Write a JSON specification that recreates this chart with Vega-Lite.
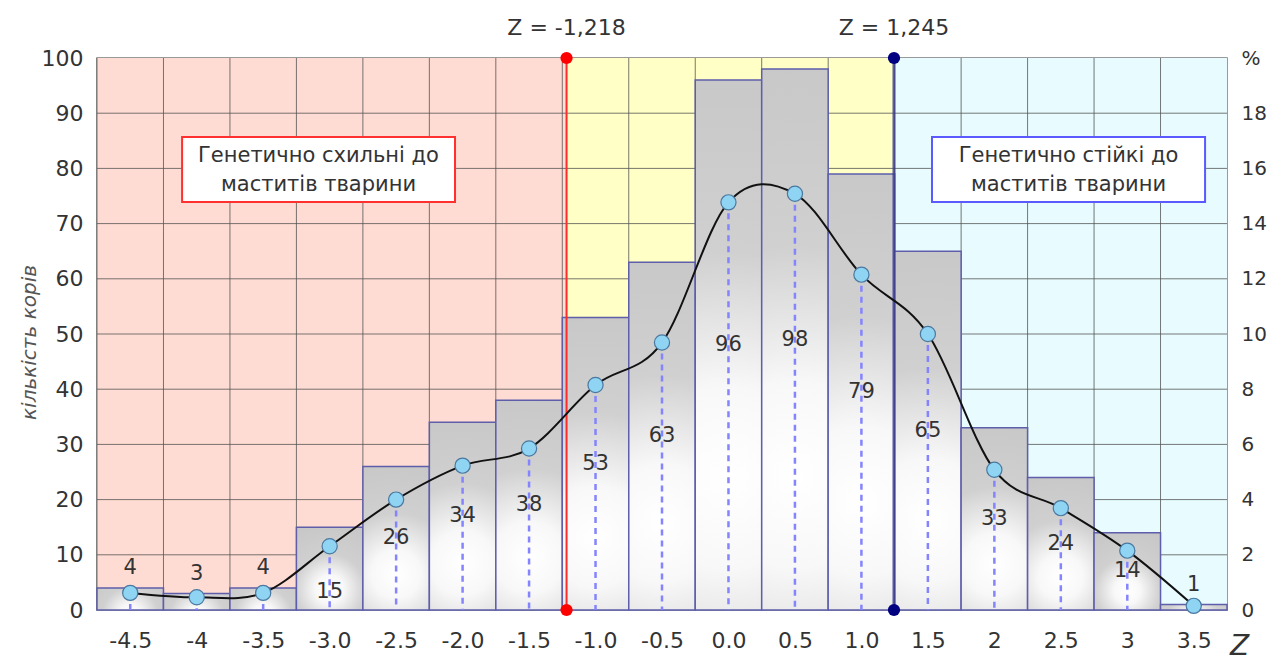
{
  "$schema": "https://vega.github.io/schema/vega-lite/v6.json",
  "width": 1130,
  "height": 552,
  "autosize": "none",
  "padding": {"left": 97, "top": 58, "right": 47, "bottom": 51},
  "background": "white",
  "config": {
    "font": "DejaVu Sans",
    "view": {"stroke": "#7a7a7a", "strokeWidth": 1.5},
    "axis": {"labelFont": "DejaVu Sans", "labelColor": "#333333", "ticks": false, "domain": false, "grid": false}
  },
  "datasets": {
    "bins": [
      {"z": -4.5, "count": 4, "pct": 0.62},
      {"z": -4.0, "count": 3, "pct": 0.46},
      {"z": -3.5, "count": 4, "pct": 0.62},
      {"z": -3.0, "count": 15, "pct": 2.31},
      {"z": -2.5, "count": 26, "pct": 4.0},
      {"z": -2.0, "count": 34, "pct": 5.23},
      {"z": -1.5, "count": 38, "pct": 5.85},
      {"z": -1.0, "count": 53, "pct": 8.15},
      {"z": -0.5, "count": 63, "pct": 9.69},
      {"z": 0.0, "count": 96, "pct": 14.77},
      {"z": 0.5, "count": 98, "pct": 15.08},
      {"z": 1.0, "count": 79, "pct": 12.15},
      {"z": 1.5, "count": 65, "pct": 10.0},
      {"z": 2.0, "count": 33, "pct": 5.08},
      {"z": 2.5, "count": 24, "pct": 3.69},
      {"z": 3.0, "count": 14, "pct": 2.15},
      {"z": 3.5, "count": 1, "pct": 0.15}
    ],
    "zones": [
      {"from": -4.75, "to": -1.218, "zone": "susceptible"},
      {"from": -1.218, "to": 1.245, "zone": "middle"},
      {"from": 1.245, "to": 3.75, "zone": "resistant"}
    ],
    "cuts": [
      {"zc": -1.218, "side": "low", "label": "Z = -1,218"},
      {"zc": 1.245, "side": "high", "label": "Z = 1,245"}
    ],
    "hgrid": [{"g": 10}, {"g": 20}, {"g": 30}, {"g": 40}, {"g": 50}, {"g": 60}, {"g": 70}, {"g": 80}, {"g": 90}]
  },
  "resolve": {"scale": {"y": "independent"}},
  "layer": [
    {
      "layer": [
        {
          "data": {"name": "zones"},
          "mark": {"type": "rect"},
          "encoding": {
            "x": {
              "field": "from", "type": "quantitative",
              "scale": {"domain": [-4.75, 3.75], "nice": false, "zero": false},
              "axis": {
                "values": [-4.5, -4, -3.5, -3, -2.5, -2, -1.5, -1, -0.5, 0, 0.5, 1, 1.5, 2, 2.5, 3, 3.5],
                "labelExpr": "(datum.value == -4 || datum.value == 2 || datum.value == 3) ? replace(format(datum.value, 'd'), '\u2212', '-') : replace(format(datum.value, '.1f'), '\u2212', '-')",
                "labelFontSize": 22,
                "labelPadding": 20,
                "title": "Z",
                "titleFont": "DejaVu Sans",
                "titleFontSize": 28,
                "titleFontStyle": "italic",
                "titleFontWeight": "normal",
                "titleColor": "#333333",
                "titleX": 1142,
                "titleY": 36,
                "titleAlign": "center",
                "titleBaseline": "middle",
                "titleAngle": 0
              }
            },
            "x2": {"field": "to"},
            "color": {
              "field": "zone", "type": "nominal",
              "scale": {"domain": ["susceptible", "middle", "resistant"], "range": ["#ffdcd3", "#ffffc6", "#e8fcff"]},
              "legend": null
            }
          }
        },
        {
          "data": {"name": "hgrid"},
          "mark": {"type": "rule", "color": "#555555", "strokeWidth": 1, "opacity": 0.8},
          "encoding": {
            "y": {"field": "g", "type": "quantitative", "scale": {"domain": [0, 100], "nice": false}}
          }
        },
        {
          "data": {"name": "bins"},
          "transform": [{"calculate": "datum.z - 0.25", "as": "edge"}],
          "mark": {"type": "rule", "color": "#555555", "strokeWidth": 1, "opacity": 0.8},
          "encoding": {
            "x": {"field": "edge", "type": "quantitative", "scale": {"domain": [-4.75, 3.75], "nice": false, "zero": false}}
          }
        },
        {
          "data": {"name": "bins"},
          "transform": [
            {"calculate": "datum.z - 0.25", "as": "lo"},
            {"calculate": "datum.z + 0.25", "as": "hi"}
          ],
          "mark": {
            "type": "rect",
            "stroke": "#5e5eaa",
            "strokeWidth": 1.5,
            "fill": {
              "gradient": "radial",
              "x1": 0.5, "y1": 0.75, "r1": 0,
              "x2": 0.5, "y2": 0.75, "r2": 0.85,
              "stops": [
                {"offset": 0, "color": "#ffffff"},
                {"offset": 0.2, "color": "#f8f8f8"},
                {"offset": 0.5, "color": "#d0d0d0"},
                {"offset": 1, "color": "#c6c6c6"}
              ]
            }
          },
          "encoding": {
            "x": {"field": "lo", "type": "quantitative", "scale": {"domain": [-4.75, 3.75], "nice": false, "zero": false}},
            "x2": {"field": "hi"},
            "y": {
              "field": "count", "type": "quantitative",
              "scale": {"domain": [0, 100], "nice": false},
              "axis": {
                "orient": "left",
                "values": [0, 10, 20, 30, 40, 50, 60, 70, 80, 90, 100],
                "labelFontSize": 22,
                "labelPadding": 14,
                "title": "кількість корів",
                "titleFont": "DejaVu Sans",
                "titleFontSize": 20,
                "titleFontStyle": "italic",
                "titleFontWeight": "normal",
                "titleColor": "#555555",
                "titleX": -68,
                "titleY": 284,
                "titleAngle": -90,
                "titleAlign": "center",
                "titleBaseline": "middle"
              }
            },
            "y2": {"datum": 0}
          }
        },
        {
          "data": {"name": "bins"},
          "transform": [
            {"calculate": "datum.count < 5 ? datum.count + 3.6 : (datum.count == 15 ? 3.3 : datum.count / 2)", "as": "ly"}
          ],
          "mark": {"type": "text", "fontSize": 21, "color": "#333333", "baseline": "middle", "align": "center"},
          "encoding": {
            "x": {"field": "z", "type": "quantitative", "scale": {"domain": [-4.75, 3.75], "nice": false, "zero": false}},
            "y": {"field": "ly", "type": "quantitative", "scale": {"domain": [0, 100], "nice": false}},
            "text": {"field": "count", "type": "quantitative"}
          }
        },
        {
          "data": {"name": "cuts"},
          "transform": [{"filter": "datum.side == 'low'"}],
          "layer": [
            {"mark": {"type": "rule", "strokeWidth": 2, "color": "#ff2a2a"}, "encoding": {}},
            {"mark": {"type": "circle", "size": 150, "color": "#ff0000", "opacity": 1}, "encoding": {"y": {"datum": 100, "type": "quantitative", "scale": {"domain": [0, 100], "nice": false}}}},
            {"mark": {"type": "circle", "size": 150, "color": "#ff0000", "opacity": 1}, "encoding": {"y": {"datum": 0, "type": "quantitative", "scale": {"domain": [0, 100], "nice": false}}}}
          ],
          "encoding": {
            "x": {"field": "zc", "type": "quantitative", "scale": {"domain": [-4.75, 3.75], "nice": false, "zero": false}}
          }
        },
        {
          "data": {"name": "cuts"},
          "transform": [{"filter": "datum.side == 'high'"}],
          "layer": [
            {"mark": {"type": "rule", "strokeWidth": 3, "color": "#3a3a8a", "opacity": 0.8}, "encoding": {}},
            {"mark": {"type": "circle", "size": 150, "color": "#000080", "opacity": 1}, "encoding": {"y": {"datum": 100, "type": "quantitative", "scale": {"domain": [0, 100], "nice": false}}}},
            {"mark": {"type": "circle", "size": 150, "color": "#000080", "opacity": 1}, "encoding": {"y": {"datum": 0, "type": "quantitative", "scale": {"domain": [0, 100], "nice": false}}}}
          ],
          "encoding": {
            "x": {"field": "zc", "type": "quantitative", "scale": {"domain": [-4.75, 3.75], "nice": false, "zero": false}}
          }
        },
        {
          "data": {"name": "cuts"},
          "mark": {"type": "text", "fontSize": 22, "color": "#333333", "baseline": "middle", "align": "center", "dy": -30},
          "encoding": {
            "x": {"field": "zc", "type": "quantitative", "scale": {"domain": [-4.75, 3.75], "nice": false, "zero": false}},
            "y": {"datum": 100, "type": "quantitative", "scale": {"domain": [0, 100], "nice": false}},
            "text": {"field": "label", "type": "nominal"}
          }
        },
        {
          "data": {"values": [{}]},
          "mark": {"type": "rect", "fill": "white", "stroke": "#ff3030", "strokeWidth": 2},
          "encoding": {
            "x": {"datum": -4.11, "type": "quantitative", "scale": {"domain": [-4.75, 3.75], "nice": false, "zero": false}},
            "x2": {"datum": -2.057},
            "y": {"datum": 85.7, "type": "quantitative", "scale": {"domain": [0, 100], "nice": false}},
            "y2": {"datum": 73.9}
          }
        },
        {
          "data": {"values": [{}]},
          "mark": {"type": "rect", "fill": "white", "stroke": "#5a5aff", "strokeWidth": 2},
          "encoding": {
            "x": {"datum": 1.531, "type": "quantitative", "scale": {"domain": [-4.75, 3.75], "nice": false, "zero": false}},
            "x2": {"datum": 3.585},
            "y": {"datum": 85.7, "type": "quantitative", "scale": {"domain": [0, 100], "nice": false}},
            "y2": {"datum": 73.9}
          }
        },
        {
          "data": {"values": [{"t": ["Генетично схильні до", "маститів тварини"]}]},
          "mark": {"type": "text", "fontSize": 21, "color": "#333333", "align": "center", "baseline": "middle", "lineHeight": 29, "dy": -14},
          "encoding": {
            "x": {"datum": -3.084, "type": "quantitative", "scale": {"domain": [-4.75, 3.75], "nice": false, "zero": false}},
            "y": {"datum": 79.8, "type": "quantitative", "scale": {"domain": [0, 100], "nice": false}},
            "text": {"field": "t"}
          }
        },
        {
          "data": {"values": [{"t": ["Генетично стійкі до", "маститів тварини"]}]},
          "mark": {"type": "text", "fontSize": 21, "color": "#333333", "align": "center", "baseline": "middle", "lineHeight": 29, "dy": -14},
          "encoding": {
            "x": {"datum": 2.558, "type": "quantitative", "scale": {"domain": [-4.75, 3.75], "nice": false, "zero": false}},
            "y": {"datum": 79.8, "type": "quantitative", "scale": {"domain": [0, 100], "nice": false}},
            "text": {"field": "t"}
          }
        }
      ]
    },
    {
      "data": {"name": "bins"},
      "encoding": {
        "x": {
          "field": "z", "type": "quantitative",
          "scale": {"domain": [-4.75, 3.75], "nice": false, "zero": false}
        },
        "y": {
          "field": "pct", "type": "quantitative",
          "scale": {"domain": [0, 20], "nice": false},
          "axis": {
            "orient": "right",
            "values": [0, 2, 4, 6, 8, 10, 12, 14, 16, 18, 20],
            "labelExpr": "datum.value == 20 ? '%' : datum.label",
            "labelFontSize": 20,
            "labelPadding": 14,
            "title": null
          }
        }
      },
      "layer": [
        {
          "mark": {"type": "rule", "color": "#8484ff", "strokeWidth": 2.5, "strokeDash": [6, 5]},
          "encoding": {"y2": {"datum": 0}}
        },
        {
          "mark": {"type": "line", "color": "#111111", "strokeWidth": 2, "interpolate": "cardinal"},
          "encoding": {}
        },
        {
          "mark": {"type": "circle", "size": 230, "fill": "#8fd4f2", "stroke": "#4a78a0", "strokeWidth": 1.2, "opacity": 1},
          "encoding": {}
        }
      ]
    }
  ]
}
